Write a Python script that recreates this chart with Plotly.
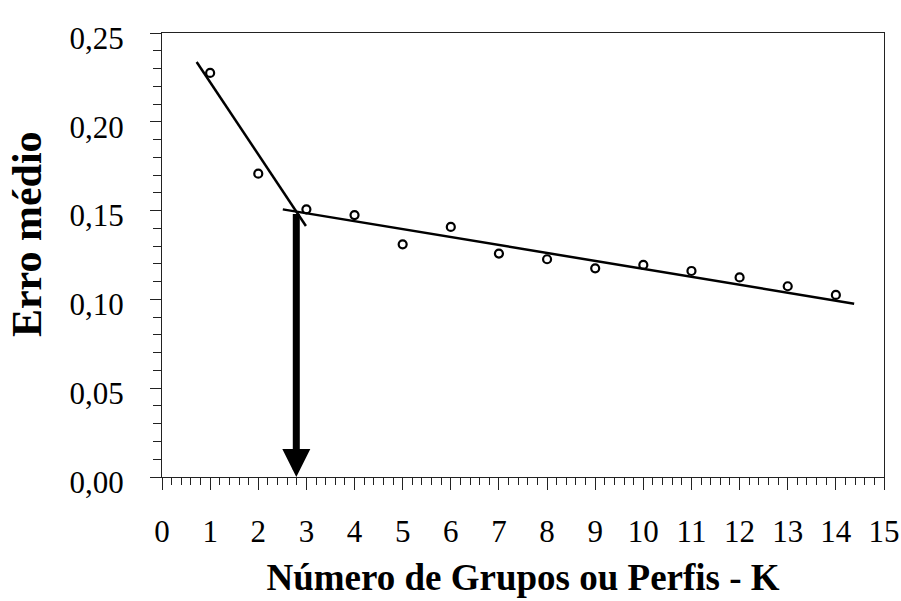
import plotly.graph_objects as go

# Data
k_values = [1, 2, 3, 4, 5, 6, 7, 8, 9, 10, 11, 12, 13, 14]
erro_medio = [0.2275, 0.1708, 0.1507, 0.1475, 0.1310, 0.1408, 0.1258, 0.1226,
              0.1175, 0.1194, 0.1160, 0.1124, 0.1074, 0.1025]

# Trend line 1 (steep)
trend1_x = [0.72, 2.99]
trend1_y = [0.2337, 0.1413]
# Trend line 2 (shallow)
trend2_x = [2.51, 14.38]
trend2_y = [0.1507, 0.0976]

# Arrow marking the elbow
arrow_x = 2.79
arrow_y_top = 0.149
arrow_y_bottom = 0.0

x_tick_vals = list(range(0, 16))
x_tick_text = [str(v) for v in x_tick_vals]
y_tick_vals = [0.00, 0.05, 0.10, 0.15, 0.20, 0.25]
y_tick_text = ["0,00", "0,05", "0,10", "0,15", "0,20", "0,25"]

FONT = "Liberation Serif"

fig = go.Figure()
fig.add_trace(go.Scatter(x=trend1_x, y=trend1_y, mode="lines",
                         line=dict(color="black", width=2.5), showlegend=False))
fig.add_trace(go.Scatter(x=trend2_x, y=trend2_y, mode="lines",
                         line=dict(color="black", width=2.5), showlegend=False))
fig.add_trace(go.Scatter(x=k_values, y=erro_medio, mode="markers",
                         marker=dict(symbol="circle-open", size=8, color="black",
                                     line=dict(width=2.2, color="black")),
                         showlegend=False))

fig.add_annotation(x=arrow_x, y=arrow_y_bottom, ax=arrow_x, ay=arrow_y_top,
                   xref="x", yref="y", axref="x", ayref="y", text="",
                   showarrow=True, arrowhead=2, arrowsize=0.8, arrowwidth=7,
                   arrowcolor="black")

# Y-axis title as rotated annotation
fig.add_annotation(text="<b>Erro médio</b>", xref="paper", yref="paper",
                   x=-0.187, y=0.547, xanchor="center", yanchor="middle",
                   textangle=-90, showarrow=False,
                   font=dict(family=FONT, size=42, color="black"))

fig.update_layout(
    width=901, height=601,
    margin=dict(l=162, r=17, t=33, b=124),
    paper_bgcolor="white", plot_bgcolor="white",
    font=dict(family=FONT, color="black", size=31),
)
fig.update_xaxes(
    range=[0, 15], tickvals=x_tick_vals, ticktext=x_tick_text,
    ticks="outside", ticklen=12, tickwidth=1.3, tickcolor="#222",
    minor=dict(dtick=0.2, ticks="outside", ticklen=7, tickwidth=1, tickcolor="#222"),
    showline=True, linecolor="#222", linewidth=1.3, mirror=True,
    showgrid=False, zeroline=False, automargin=False,
    tickfont=dict(family=FONT, size=31, color="black"),
    ticklabelstandoff=15,
    title=dict(text="<b>Número de Grupos ou Perfis - K</b>",
               font=dict(family=FONT, size=37, color="black"), standoff=15),
)
fig.update_yaxes(
    range=[0, 0.25], tickvals=y_tick_vals, ticktext=y_tick_text,
    ticks="outside", ticklen=11, tickwidth=1.3, tickcolor="#222",
    minor=dict(dtick=0.01, ticks="outside", ticklen=8, tickwidth=1, tickcolor="#222"),
    showline=True, linecolor="#222", linewidth=1.3, mirror=True,
    showgrid=False, zeroline=False, automargin=False,
    tickfont=dict(family=FONT, size=31, color="black"),
    ticklabelstandoff=20, ticklabelshift=5,
)

fig.write_html("out.html")
